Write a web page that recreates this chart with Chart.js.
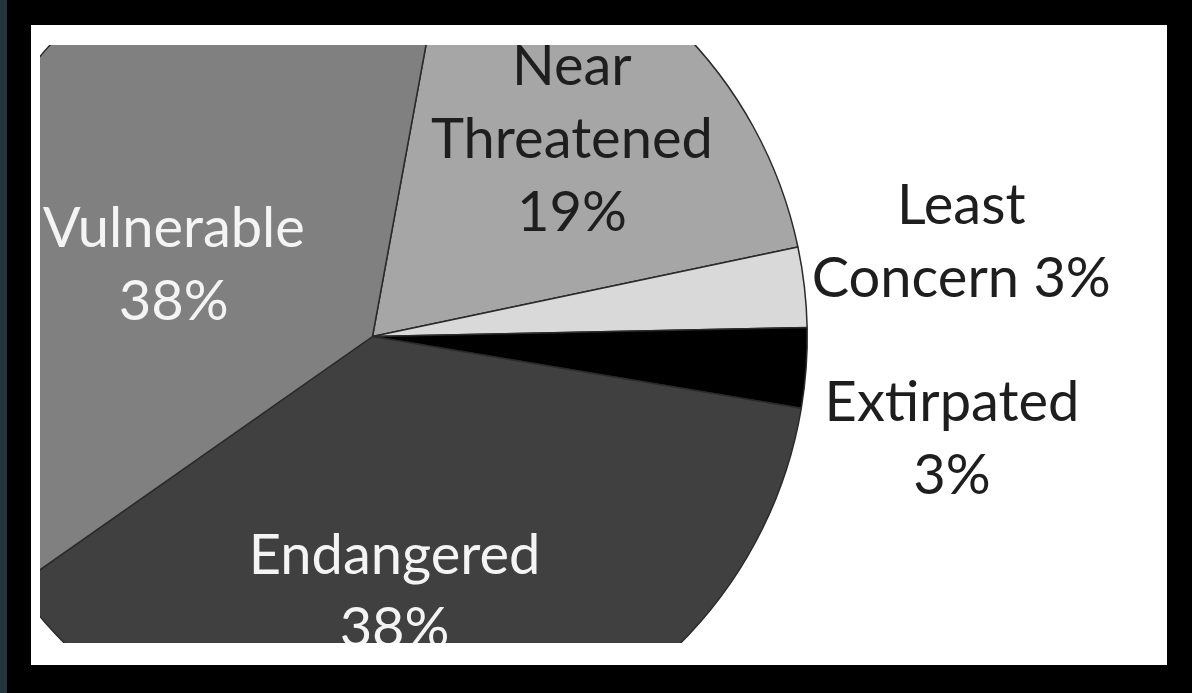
<!DOCTYPE html>
<html>
<head>
<meta charset="utf-8">
<script src="https://cdn.jsdelivr.net/npm/chart.js@4/dist/chart.umd.min.js"></script>
<style>
  html, body { margin: 0; padding: 0; }
  body { width: 1192px; height: 693px; background: #000; position: relative; overflow: hidden; }
  #strip { position: absolute; left: 0; top: 0; width: 7px; height: 693px; background: #26343c; }
  #panel { position: absolute; left: 31px; top: 25px; width: 1136px; height: 640px; background: #fff; }
  #clip { position: absolute; left: 40px; top: 45px; width: 1127px; height: 598px; overflow: hidden; }
  #myChart { position: absolute; left: -103px; top: -144px; }
</style>
</head>
<body>
<div id="strip"></div>
<div id="panel"></div>
<div id="clip">
  <canvas id="myChart" width="1230" height="871"></canvas>
</div>
<script>
// categorias y valores (porcentajes)
const categorias = ['Near Threatened', 'Least Concern', 'Extirpated', 'Endangered', 'Vulnerable']
const valores = [19, 3, 3, 38, 38]
// texto de cada etiqueta, el porcentaje se agrega despues
const nombres = [['Near', 'Threatened'], ['Least', 'Concern'], ['Extirpated'], ['Endangered'], ['Vulnerable']]

const colores = ['#a6a6a6', '#d9d9d9', '#000000', '#404040', '#808080']
const colorTexto = ['#1e1e1e', '#1e1e1e', '#1e1e1e', '#f4f4f4', '#f4f4f4']
// donde va cada etiqueta: radio relativo, giro en grados, porcentaje en la misma linea
const posEtiqueta = [
  { r: 0.648, giro: 0.8, junto: false },
  { r: 1.372, giro: -2.7, junto: true },
  { r: 1.353, giro: 5.7, junto: false },
  { r: 0.586, giro: 7.8, junto: false },
  { r: 0.487, giro: -12.5, junto: false }
]
const tamLetra = 56

const etiquetas = {
  id: 'etiquetas',
  afterDatasetsDraw(chart) {
    const ctx = chart.ctx
    const arcs = chart.getDatasetMeta(0).data
    const total = valores.reduce((a, b) => a + b, 0)
    ctx.save()
    ctx.font = tamLetra + 'px Lato'
    ctx.textAlign = 'center'
    ctx.textBaseline = 'alphabetic'
    for (let i = 0; i < arcs.length; i++) {
      const p = arcs[i].getProps(['x', 'y', 'startAngle', 'endAngle', 'outerRadius'], true)
      const pos = posEtiqueta[i]
      const ang = (p.startAngle + p.endAngle) / 2 + pos.giro * Math.PI / 180
      const rad = p.outerRadius * pos.r
      const cx = p.x + Math.cos(ang) * rad
      const cy = p.y + Math.sin(ang) * rad
      const pct = Math.round(valores[i] / total * 100) + '%'
      let lineas = nombres[i].slice()
      if (pos.junto) {
        lineas[lineas.length - 1] += ' ' + pct
      } else {
        lineas.push(pct)
      }
      ctx.fillStyle = colorTexto[i]
      const alto = 73
      for (let j = 0; j < lineas.length; j++) {
        const ly = cy + (j - (lineas.length - 1) / 2) * alto
        ctx.fillText(lineas[j], cx, ly + tamLetra * 0.36)
      }
    }
    ctx.restore()
  }
}

const ctx = document.getElementById('myChart').getContext('2d')
const myChart = new Chart(ctx, {
  type: 'pie',
  data: {
    labels: categorias,
    datasets: [
      {
        data: valores,
        backgroundColor: colores,
        borderColor: '#2a2a2a',
        borderWidth: 1.5
      }
    ]
  },
  options: {
    responsive: false,
    animation: false,
    devicePixelRatio: 1,
    rotation: 10.4,
    layout: { padding: { left: 0, top: 0, bottom: 0, right: 359 } },
    plugins: {
      legend: { display: false },
      tooltip: { enabled: false }
    }
  },
  plugins: [etiquetas]
})
</script>
</body>
</html>
